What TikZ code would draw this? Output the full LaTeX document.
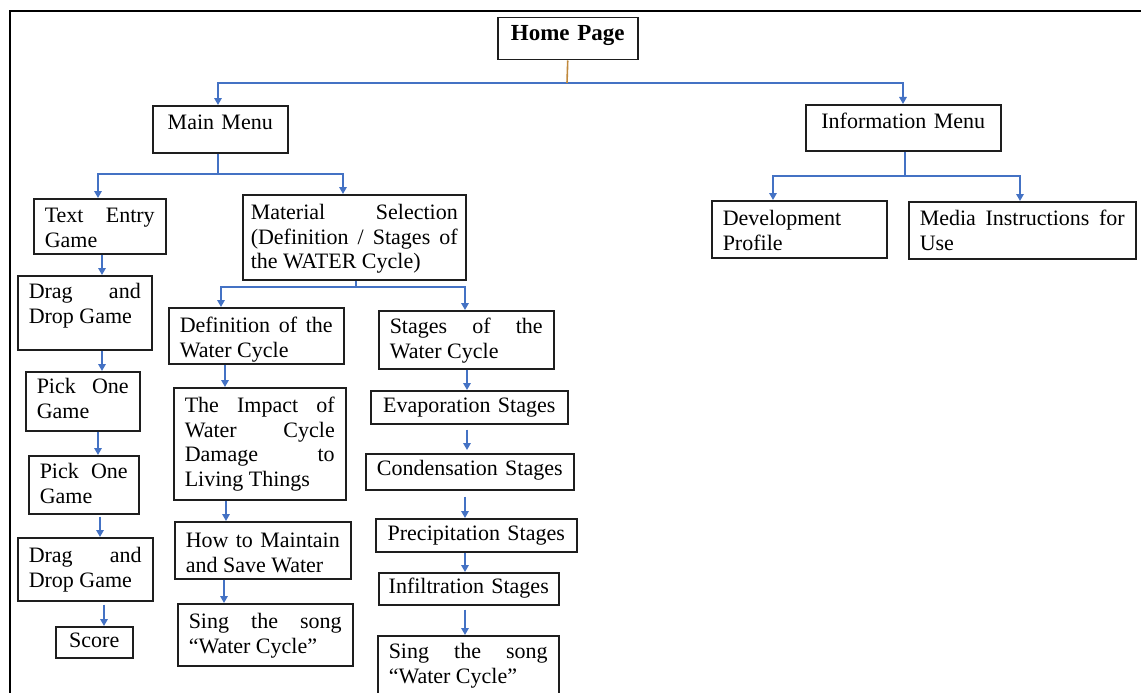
\documentclass[tikz,border=0pt]{standalone}
\usepackage{fontspec}
\setmainfont{Liberation Serif}
\usetikzlibrary{arrows.meta}
\definecolor{linkc}{HTML}{4472C4}
\definecolor{homec}{HTML}{C0893C}
\definecolor{boxc}{HTML}{1E1E1E}
\newcommand{\mainfs}{\fontsize{22}{24.5}\selectfont}
\newcommand{\homefs}{\fontsize{23}{26}\selectfont\bfseries}
\tolerance=10000 \hyphenpenalty=10000 \exhyphenpenalty=10000
\begin{document}
\begin{tikzpicture}[x=1pt,y=-1pt,
  bx/.style={draw=boxc, line width=1.5pt, anchor=north west, inner xsep=11pt, inner ysep=0pt, align=justify, font=\mainfs},
  cbx/.style={bx, align=center, inner xsep=8pt},
  arr/.style={draw=linkc, line width=1.6pt, -{Triangle[length=7pt,width=7.5pt]}},
  lnk/.style={draw=linkc, line width=1.6pt},
  frame/.style={draw=black, line width=2pt}]
\useasboundingbox (0,0) rectangle (1141,693);
\clip (0,0) rectangle (1141,693);
% outer frame
\draw[frame] (1145,11) -- (10,11) -- (10,700);
% top level
\node[cbx, font=\homefs, text width=124pt, text height=23pt, text depth=19pt] (home) at (497,17) {Home Page};
\node[cbx, text width=119pt, text height=24pt, text depth=23pt] (mm) at (152,105) {Main Menu};
\node[cbx, text width=179pt, text height=24pt, text depth=22pt] (im) at (805,104) {Information Menu};
% information branch
\node[bx, text width=153pt, text height=25pt, text depth=32pt] (dev) at (711,200) {Development Profile};
\node[bx, text width=205pt, text height=24pt, text depth=33pt] (med) at (908,201) {Media Instructions for Use};
% games column
\node[bx, text width=110pt, text height=24pt, text depth=31pt] (te) at (33,198) {Text Entry Game};
\node[bx, text width=112pt, text height=23pt, text depth=51pt] (dd1) at (17,275) {Drag and Drop Game};
\node[bx, text width=92pt, text height=22pt, text depth=37pt] (po1) at (25,371) {Pick One Game};
\node[bx, text width=88pt, text height=23pt, text depth=35pt] (po2) at (28,455) {Pick One Game};
\node[bx, text width=113pt, text height=25pt, text depth=38pt] (dd2) at (17,537) {Drag and Drop Game};
\node[cbx, text width=61pt, text height=21pt, text depth=10pt] (sc) at (55,626) {Score};
% material
\node[bx, inner xsep=8pt, text width=207pt, text height=25pt, text depth=60pt] (mat) at (242,194) {Material Selection (Definition / Stages of the WATER Cycle)};
\node[bx, text width=153pt, text height=25pt, text depth=31pt] (def) at (168,307) {Definition of the Water Cycle};
\node[bx, text width=150pt, text height=25pt, text depth=87pt] (imp) at (173,387) {The Impact of Water Cycle Damage to Living Things};
\node[bx, text width=154pt, text height=26pt, text depth=31pt] (how) at (174,521) {How to Maintain and Save Water};
\node[bx, text width=153pt, text height=25pt, text depth=37pt] (singl) at (177,603) {Sing the song “Water Cycle”};
\node[bx, text width=153pt, text height=23pt, text depth=35pt] (stg) at (378,310) {Stages of the Water Cycle};
\node[cbx, text width=181pt, text height=22pt, text depth=11pt] (evp) at (370,390) {Evaporation Stages};
\node[cbx, text width=192pt, text height=22pt, text depth=14pt] (cnd) at (365,453) {Condensation Stages};
\node[cbx, text width=185pt, text height=22pt, text depth=11pt] (prc) at (375,518) {Precipitation Stages};
\node[cbx, text width=164pt, text height=21pt, text depth=11pt] (inf) at (378,572) {Infiltration Stages};
\node[bx, text width=159pt, text height=23pt, text depth=50pt] (singr) at (377,635) {Sing the song “Water Cycle”};
% junction coordinates
\coordinate (hj) at (567,83);
\coordinate (hl) at (218,83);
\coordinate (hr) at (903,83);
\coordinate (mj) at (218,174);
\coordinate (mjl) at (98,174);
\coordinate (mjr) at (343,174);
\coordinate (ij) at (905,176);
\coordinate (ijl) at (773,176);
\coordinate (ijr) at (1020,176);
\coordinate (kj) at (356,287);
\coordinate (kjl) at (221,287);
\coordinate (kjr) at (465,287);
\coordinate (a1) at (102,0);
\coordinate (a2) at (102,0);
\coordinate (a3) at (98,0);
\coordinate (a4) at (100,0);
\coordinate (a5) at (104,0);
\coordinate (b1) at (225,0);
\coordinate (b2) at (226,0);
\coordinate (b3) at (224,0);
\coordinate (c1) at (467,0);
\coordinate (c2) at (467,0);
\coordinate (c3) at (465,0);
\coordinate (c4) at (465,0);
\coordinate (c5) at (465,0);
% home connectors
\draw[arr] (hj) -- (hl) -- (mm.north -| hl);
\draw[arr] (hj) -- (hr) -- (im.north -| hr);
\draw[draw=homec, line width=1.6pt] (home.south) -- (hj);
% main menu branch
\draw[lnk] (mm.south -| mj) -- (mj);
\draw[arr] (mj) -- (mjl) -- (te.north -| mjl);
\draw[arr] (mj) -- (mjr) -- (mat.north -| mjr);
% information branch
\draw[lnk] (im.south -| ij) -- (ij);
\draw[arr] (ij) -- (ijl) -- (dev.north -| ijl);
\draw[arr] (ij) -- (ijr) -- (med.north -| ijr);
% material branch
\draw[lnk] (mat.south -| kj) -- (kj);
\draw[arr] (kj) -- (kjl) -- (def.north -| kjl);
\draw[arr] (kj) -- (kjr) -- (stg.north -| kjr);
% games chain
\draw[arr] (te.south -| a1) -- (dd1.north -| a1);
\draw[arr] (dd1.south -| a2) -- (po1.north -| a2);
\draw[arr] (po1.south -| a3) -- (po2.north -| a3);
\draw[arr, shorten <=2pt] (po2.south -| a4) -- (dd2.north -| a4);
\draw[arr, shorten <=3pt] (dd2.south -| a5) -- (sc.north -| a5);
% definition chain
\draw[arr] (def.south -| b1) -- (imp.north -| b1);
\draw[arr] (imp.south -| b2) -- (how.north -| b2);
\draw[arr] (how.south -| b3) -- (singl.north -| b3);
% stages chain
\draw[arr] (stg.south -| c1) -- (evp.north -| c1);
\draw[arr, shorten <=5pt, shorten >=3pt] (evp.south -| c2) -- (cnd.north -| c2);
\draw[arr, shorten <=6pt] (cnd.south -| c3) -- (prc.north -| c3);
\draw[arr] (prc.south -| c4) -- (inf.north -| c4);
\draw[arr, shorten <=4pt] (inf.south -| c5) -- (singr.north -| c5);
\end{tikzpicture}
\end{document}
